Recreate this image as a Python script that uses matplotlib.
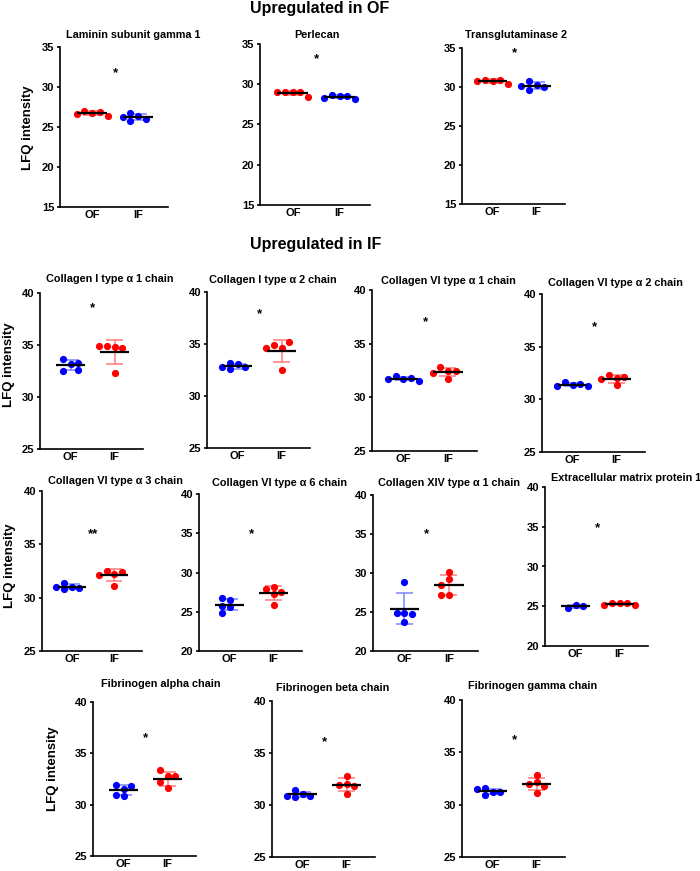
import matplotlib
matplotlib.use("Agg")
import matplotlib.pyplot as plt
import numpy as np

plt.rcParams["font.family"] = ["Liberation Sans", "DejaVu Sans"]
plt.rcParams["font.weight"] = "bold"

# Data (LFQ intensities, n per group).
titles = [
    "Laminin subunit gamma 1", "Perlecan", "Transglutaminase 2",
    "Collagen I type \u03b1 1 chain", "Collagen I type \u03b1 2 chain",
    "Collagen VI type \u03b1 1 chain", "Collagen VI type \u03b1 2 chain",
    "Collagen VI type \u03b1 3 chain", "Collagen VI type \u03b1 6 chain",
    "Collagen XIV type \u03b1 1 chain", "Extracellular matrix protein 1",
    "Fibrinogen alpha chain", "Fibrinogen beta chain", "Fibrinogen gamma chain",
]
groups = ["OF", "IF"]
of_values = [
    [26.8, 27.0, 26.9, 26.6, 26.4],
    [29.0, 29.0, 29.0, 29.0, 28.4],
    [30.8, 30.95, 30.95, 30.8, 30.4],
    [33.13, 33.67, 33.25, 32.52, 32.61],
    [33.04, 33.2, 32.79, 32.56, 32.79],
    [31.72, 31.97, 31.81, 31.72, 31.53],
    [31.39, 31.61, 31.46, 31.3, 31.23],
    [31.02, 31.39, 30.93, 30.77, 30.96],
    [26.51, 26.77, 25.74, 25.66, 24.89],
    [28.89, 24.91, 24.91, 24.74, 23.76],
    [25.11, 24.82, 24.99],
    [31.49, 31.95, 31.85, 30.81, 30.97],
    [31.03, 31.44, 30.91, 30.78, 30.91],
    [31.2, 31.58, 31.23, 31.48, 30.94],
]
if_values = [
    [26.4, 26.8, 26.0, 25.75, 26.3],
    [28.5, 28.7, 28.5, 28.3, 28.2],
    [30.25, 30.8, 30.0, 29.6, 30.15],
    [34.8, 34.92, 34.7, 32.29, 34.92],
    [34.6, 34.9, 35.19, 32.53, 34.65],
    [32.44, 32.78, 32.44, 31.75, 32.28],
    [32.03, 32.28, 32.12, 31.33, 31.96],
    [32.24, 32.52, 32.42, 31.11, 32.17],
    [28.13, 27.87, 27.57, 27.28, 25.83],
    [30.17, 29.19, 28.42, 27.18, 27.18],
    [25.41, 25.45, 25.41, 25.2, 25.2],
    [32.76, 33.34, 32.76, 32.18, 31.59],
    [32.8, 32.04, 31.95, 31.85, 31.1],
    [32.79, 32.12, 31.96, 31.83, 31.1],
]
stars = ["*", "*", "*", "*", "*", "*", "*", "**", "*", "*", "*", "*", "*", "*"]
star_y = [31.75, 33.1, 34.4, 38.5, 37.9, 37.04, 36.84, 35.92, 34.94, 35.0,
          34.84, 36.43, 36.08, 36.12]
y_limits = [(15, 35)] * 3 + [(25, 40)] * 5 + [(20, 40)] * 3 + [(25, 40)] * 3

# Layout in pixels of the 700x871 image: left, top, right, bottom.
W, H = 700, 871
boxes = [
    (60, 47, 168, 207), (260, 44, 370, 205), (462, 48, 565, 204),
    (40, 293, 143, 449), (207, 292, 310, 448), (372, 290, 477, 451),
    (542, 294, 645, 452),
    (42, 491, 142, 651), (199, 494, 302, 651), (373, 495, 478, 651),
    (545, 487, 648, 646),
    (93, 702, 196, 856), (272, 701, 375, 857), (462, 700, 565, 857),
]
title_pos = [
    (133, 35), (317, 35), (516, 35),
    (110, 279), (273, 280), (448, 281), (615, 283),
    (115, 481), (279, 483), (449, 483), (626, 478),
    (161, 684), (333, 688), (533, 686),
]
ylabel_pos = [(28, 128), (9, 365), (10, 566), (53, 769)]

RED, BLUE = "#ff0000", "#0000ff"
RED_BAR, BLUE_BAR = "#ff7a7a", "#7a84ff"
XLIM = (-0.7, 1.65)
DIAM = 7.0  # marker diameter in px


def swarm(vals, sx, sy):
    # spread points sideways so that dots do not overlap
    step = 1.1 * DIAM / sx
    placed = []
    offs = []
    for v in vals:
        for k in [0, -1, 1, -2, 2, -3, 3, -4, 4]:
            dx = k * step
            if all(((dx - o) * sx) ** 2 + ((v - pv) * sy) ** 2 >= (0.92 * DIAM) ** 2
                   for o, pv in placed):
                break
        placed.append((dx, v))
        offs.append(dx)
    return np.array(offs)


fig = plt.figure(figsize=(W / 100, H / 100), dpi=100)

for i, title in enumerate(titles):
    l, t, r, b = boxes[i]
    ax = fig.add_axes([l / W, 1 - b / H, (r - l) / W, (b - t) / H])
    ylo, yhi = y_limits[i]
    sx = (r - l) / (XLIM[1] - XLIM[0])
    sy = (b - t) / (yhi - ylo)

    if i < 3:
        cols = [(RED, RED_BAR), (BLUE, BLUE_BAR)]
    else:
        cols = [(BLUE, BLUE_BAR), (RED, RED_BAR)]

    for g, vals in enumerate([of_values[i], if_values[i]]):
        vals = np.array(vals)
        m = vals.mean()
        sd = vals.std(ddof=1)
        c, cbar = cols[g]
        ax.vlines(g, m - sd, m + sd, color=cbar, lw=1.1, zorder=2)
        ax.hlines([m - sd, m + sd], g - 0.19, g + 0.19, color=cbar, lw=1.1, zorder=2)
        ax.plot(g + swarm(vals, sx, sy), vals, "o", color=c, ms=5.2, mew=0, zorder=3)
        ax.hlines(m, g - 0.33, g + 0.33, color="black", lw=1.6, zorder=4)

    ax.text(0.5, star_y[i], stars[i], ha="center", va="center", fontsize=9.5,
            fontweight="bold")

    ax.set_xlim(*XLIM)
    ax.set_ylim(ylo, yhi)
    ax.set_yticks(np.arange(ylo, yhi + 1, 5))
    ax.set_xticks([0, 1])
    ax.set_xticklabels(groups)
    for s in ["top", "right"]:
        ax.spines[s].set_visible(False)
    for s in ["left", "bottom"]:
        ax.spines[s].set_linewidth(1.2)
    ax.tick_params(axis="y", length=2.5, width=1.2, pad=1.5, labelsize=8)
    ax.tick_params(axis="x", length=0, pad=2.5, labelsize=8)
    for lab in ax.get_xticklabels() + ax.get_yticklabels():
        lab.set_fontweight("bold")

    tx, ty = title_pos[i]
    fig.text(tx / W, 1 - ty / H, title, ha="center", va="center",
             fontsize=7.8, fontweight="bold")

for x, y in ylabel_pos:
    fig.text(x / W, 1 - y / H, "LFQ intensity", rotation=90, ha="center",
             va="center", fontsize=9.5, fontweight="bold")

fig.text(320 / W, 1 - 8 / H, "Upregulated in OF", ha="center", va="center",
         fontsize=11.5, fontweight="bold")
fig.text(316 / W, 1 - 244 / H, "Upregulated in IF", ha="center", va="center",
         fontsize=11.5, fontweight="bold")

fig.savefig("out.png", dpi=100)
